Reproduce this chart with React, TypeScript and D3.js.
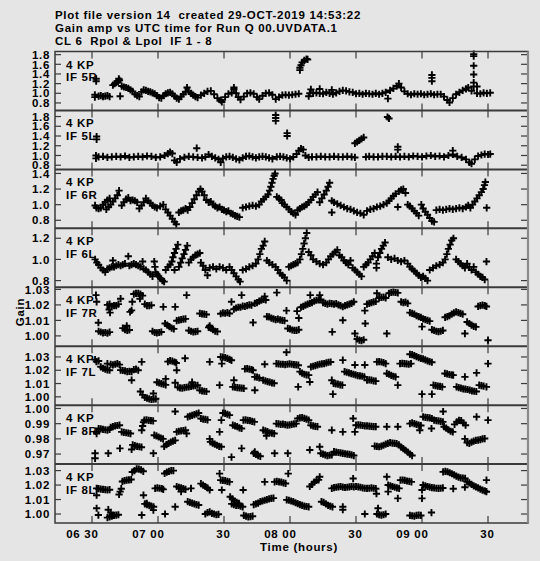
import React from "react";
import * as d3 from "d3";

// ---------- DATA (time = minutes after 06:00 UTC, value = gain amplitude) ----------
const panelLabels = ["IF 5R", "IF 5L", "IF 6R", "IF 6L", "IF 7R", "IF 7L", "IF 8R", "IF 8L"];
const antennaLabel = "4 KP";

const yDomains: [number, number][] = [
  [0.645, 1.865], [0.715, 1.925], [0.697, 1.452], [0.737, 1.294],
  [0.99335, 1.0314], [0.99376, 1.0381], [0.9634, 1.0022], [0.9938, 1.0345],
];
const yTicks: number[][] = [
  [0.8, 1.0, 1.2, 1.4, 1.6, 1.8],
  [0.8, 1.0, 1.2, 1.4, 1.6, 1.8],
  [0.8, 1.0, 1.2, 1.4],
  [0.8, 1.0, 1.2],
  [1.0, 1.01, 1.02, 1.03],
  [1.0, 1.01, 1.02, 1.03],
  [0.97, 0.98, 0.99, 1.0],
  [1.0, 1.01, 1.02, 1.03],
];
const yTickDecimals = [1, 1, 1, 1, 2, 2, 2, 2];

const timeTicks = [30, 60, 90, 120, 150, 180, 210];
const timeTickLabels = ["06 30", "07 00", "30", "08 00", "30", "09 00", "30"];
const timeDomain: [number, number] = [13.18, 228.18];

const titleLines = [
  "Plot file version 14  created 29-OCT-2019 14:53:22",
  "Gain amp vs UTC time for Run Q 00.UVDATA.1",
  "CL 6  Rpol & Lpol  IF 1 - 8",
];

const if5R: [number, number][] = [
  [31.3,0.97],[31.3,0.92],[31.9,1.30],[31.9,1.25],
  [33,0.94],[34,0.95],[35,0.93],[36,0.94],[37,0.95],[38,0.93],
  [39.5,1.17],[40.3,1.20],[41,1.22],[41.8,1.24],[42.2,1.30],[42.5,1.27],[42.8,0.94],
  [43.5,1.15],[44.5,1.13],[45.5,1.12],[46.5,1.10],[47.5,1.07],[48.5,1.04],
  [49.5,0.98],[50.5,0.95],[51.5,0.93],
  [52.5,1.03],[53.5,1.07],[54.5,1.06],[55.5,1.04],[56.5,1.03],[57.5,1.01],[58.5,0.99],[59.5,0.95],[60.5,0.91],[61.5,0.90],
  [62.5,0.95],[63.5,0.99],[64.5,1.01],[65.5,1.02],[66.5,0.99],[67.5,0.94],[68.5,0.90],[69.5,0.88],[70.5,0.93],[71.5,0.98],
  [72.5,1.03],[73.2,1.12],[74,1.04],[75,1.0],[76,0.96],[77,0.93],[78,0.91],
  [79.5,0.96],[81,1.0],[82.5,1.04],[84,1.05],[85.5,0.98],[87,0.9],[88.5,0.86],[89,0.82],[90.5,0.92],[92,0.99],[93.5,1.01],
  [94.5,1.08],[94.5,1.12],[95.5,1.0],[96.5,0.92],[97.5,0.87],[99,0.93],[100.5,1.0],[102,1.01],[103.5,0.99],[105,0.92],[106,0.88],
  [107.5,0.95],[109,1.0],[110.5,1.01],[112,0.97],[113.5,0.88],[115,0.92],[116.5,0.96],[118,0.97],[119.5,0.96],[121,0.97],[122.5,0.98],[124,0.99],
  [124.5,1.48],[124.5,1.53],[125,1.58],[125.5,1.64],[126.5,1.68],[127.5,1.71],[128,1.70],
  [128.5,0.94],[129,1.0],[129.5,1.08],[130.5,1.0],[132,1.01],[133.5,1.0],[133.5,1.09],[135,0.99],[136.5,1.02],[138,1.0],[139,1.07],
  [139.5,0.98],[141,1.01],[142.5,1.04],[144,1.06],[145.5,1.05],[147,1.03],[148.5,1.02],[150,0.99],[151.5,1.0],[153,0.98],[154.5,1.0],
  [156,0.99],[157.5,0.98],[159,1.0],[160.5,0.98],[162,1.0],[163.5,1.02],[164.5,0.89],[165.5,1.06],[167,1.1],[168.5,1.15],[169.5,1.2],
  [170.5,1.12],[172,1.04],[173.5,0.99],[175,0.97],[176.5,0.99],[178,0.98],[179.5,0.99],[181,0.97],[182.5,0.98],[184,0.99],
  [184.5,1.25],[184.5,1.32],[184.5,1.38],[185.5,0.97],[187,0.98],[188.5,0.98],[190,0.93],[191.5,0.86],[192.5,0.81],[194,0.9],
  [195.5,0.98],[197,1.02],[198.5,1.06],[200,1.09],[201,1.12],[202.5,1.05],
  [203.5,1.14],[203.5,1.22],[203.5,1.39],[203.5,1.57],[203.5,1.77],[203.5,1.81],
  [205,1.14],[205,1.0],[206.5,0.99],[208,1.01],[209.5,1.0],[211,1.01],
];

const if5L: [number, number][] = [
  [31.8,1.0],[31.8,0.94],[32.1,1.39],[32.1,1.33],
  [33,0.97],[35,0.98],[37,0.96],[39,0.97],[41,0.98],[43,0.97],[45,0.99],[47,0.96],[49,0.97],[51,0.98],[53,0.97],[55,0.99],
  [57,0.98],[59,0.96],[61,0.97],[63,1.0],[64.5,1.04],[65.5,1.07],[66.5,1.04],[67.5,0.9],[68.5,0.86],[70,0.93],[72,0.96],
  [74,0.98],[76,0.97],[77.6,1.15],[78,0.96],
  [80,0.95],[81.5,0.97],[83,1.02],[84.5,0.98],[86,0.95],[87.5,0.92],[88.5,0.86],[89.5,0.94],[91,0.97],[92.5,0.98],[94,0.96],
  [95.5,0.93],[97,0.91],[98.5,0.95],[100,0.98],[101.5,0.99],[103,0.97],[104.5,0.95],[106,0.97],[107.5,0.98],[109,0.97],
  [110.5,0.95],[112,0.93],[113.5,1.83],[113.5,1.77],[113.5,1.71],[114,0.97],[115.5,0.98],[117,0.97],[118.5,0.95],
  [118.7,1.46],[118.7,1.40],[120,0.93],[121.5,0.97],[123,1.03],[124,1.1],[125,1.14],[126,1.12],[127,1.0],[128.5,0.96],
  [130,0.97],[132,0.97],[134,0.98],[136,0.97],[138,0.97],[140,0.98],[142,0.97],[144,0.97],[146,0.98],[148,0.97],[149.5,0.96],
  [149.5,1.25],[150.5,1.28],[151.5,1.31],[152.5,1.34],[153.5,1.37],
  [154.5,0.97],[156,0.98],[158,0.97],[160,0.97],[162,0.98],[164,0.98],[164.3,1.79],[165,1.76],[166,0.97],[168,0.98],
  [169,1.18],[169,1.12],[170,0.97],[172,0.98],[174,0.97],[176,0.99],[178,0.98],[180,0.97],[182,0.99],[184,1.0],[186,0.98],
  [188,0.99],[190,0.97],[192,1.0],[194,1.1],[194,1.02],[196,0.98],[198,0.96],[200,0.92],[201.5,0.86],[202.5,0.83],
  [204,0.92],[205.5,0.99],[207,1.01],[208.5,1.03],[210,1.02],[211,1.03],
];

const if6R: [number, number][] = [
  [31.4,0.99],[32,0.96],[33,0.95],[34,0.96],[35,1.0],[36,1.03],[37,1.06],[38,1.08],[36.5,0.94],[37.5,0.97],[38.5,1.0],
  [39.5,1.04],[40.5,1.08],[41.5,1.12],[42.3,1.18],[43.5,0.99],[44.5,1.03],[45.5,1.07],[46.5,1.09],[47.5,1.05],[48.5,1.06],
  [49.5,1.05],[50.5,1.03],[51.5,0.95],[52.5,0.99],[53.5,1.03],[54.5,1.08],[55.5,1.05],[56.5,1.02],[57.5,0.99],[58.5,0.97],
  [59.5,0.96],[61,0.98],[62.4,1.0],[63.5,0.94],[64.5,0.9],[65.5,0.86],[66.5,0.82],[67.5,0.78],[68.3,0.75],[69.5,0.9],
  [70.5,0.92],[71.5,0.93],[72.5,0.95],[73.5,0.93],[74.5,0.97],[75.5,1.02],[76.5,1.07],[77.5,1.12],[78.5,1.17],[79.3,1.2],
  [80,1.17],[81,1.12],[82,1.06],[83,1.03],[84,1.04],[85,1.0],[86,0.98],[87,0.96],[88,0.97],[89,0.94],[90,0.93],[91,0.91],
  [92,0.92],[93,0.89],[94,0.88],[95,0.86],[96,0.85],[97,0.84],[98.5,0.96],[100,0.97],[101.5,0.98],[103,0.99],[104.5,0.98],
  [106,1.0],[107,1.04],[108,1.07],[109,1.1],[110,1.13],[110.7,1.18],[111.3,1.23],[111.8,1.28],[112.3,1.33],[112.8,1.37],
  [113.2,1.4],[114,1.1],[115,1.08],[116,1.06],[116.5,1.02],[117.5,1.0],[118.5,0.97],[119.5,0.94],[120.5,0.91],[121.5,0.89],
  [122.5,0.87],[123.5,0.93],[124.5,0.95],[125.5,0.97],[126.5,0.98],[127.5,1.0],[128.5,1.03],[129.5,1.06],[130.5,1.1],
  [131.5,1.13],[132.5,1.16],[133.5,1.03],[134.5,1.08],[135.5,1.13],[136.5,1.18],[137.3,1.23],[138,1.28],[139,1.05],[139,0.9],
  [140,1.03],[141.5,1.01],[143,0.99],[144.5,0.97],[146,0.95],[147.5,0.94],[149,0.92],[150.5,0.9],[152,0.89],[153.5,0.87],
  [155,0.92],[156.5,0.94],[158,0.95],[159.5,0.97],[161,0.98],[162.5,1.0],[164,1.02],[165,1.05],[166,1.08],[167,1.11],
  [168,1.14],[169,0.97],[169.5,1.17],[170.5,1.19],[171.5,1.2],[172.5,1.15],[173.5,1.0],[174.5,0.98],[175.5,0.95],[176.5,0.92],
  [177.5,0.89],[178.5,0.86],[179.7,1.0],[180.5,0.95],[181.5,0.91],[182.5,0.87],[183.5,0.83],[184.5,0.79],[185.5,0.78],
  [186.5,0.93],[188,0.94],[189.5,0.93],[191,0.94],[192.5,0.95],[194,0.94],[195.5,0.95],[197,0.96],[198.5,0.95],[200,0.97],
  [201,0.99],[202,0.96],[203,1.0],[204,1.04],[205,1.08],[206,1.12],[207,1.16],[207.8,1.2],[208.4,1.25],[208.8,1.29],[209.4,0.96],
];

const if6L: [number, number][] = [
  [31.4,1.0],[32.2,0.97],[33,0.95],[34,0.92],[35,0.9],[36,0.88],[37,0.91],[38,0.92],[39,0.93],[39.5,0.99],[40,0.93],
  [41,0.94],[42,0.95],[43,0.94],[44,0.95],[45,0.96],[46.5,1.03],[47,0.94],[48,0.95],[49,0.96],[50,0.95],[51,0.94],[52,0.93],
  [53,0.98],[53.5,0.91],[54.5,0.9],[55.5,0.88],[56.5,0.86],[57.5,0.84],[58.3,0.98],[58.6,0.93],[58.9,0.88],[59.5,0.86],
  [60.3,0.84],[61.2,0.82],[62,0.8],[62.8,0.79],[63.5,0.9],[64.5,0.93],[65.5,0.95],[66.3,0.98],[67.5,0.9],[66.8,1.02],
  [67.5,1.06],[68.2,1.1],[69,1.14],[69.5,0.93],[70.3,0.97],[71,1.01],[71.8,1.05],[72.5,1.09],[73.3,1.13],[74,0.97],[75,1.0],
  [76,1.02],[77,1.04],[78,1.05],[79,1.06],
  [79.5,0.97],[80.5,0.94],[81.5,0.9],[82.5,0.85],[83.5,0.92],[85,0.93],[86.5,0.91],[88,0.93],[89.5,0.92],[91,0.9],[92.5,0.93],
  [93.5,0.9],[94.5,0.87],[95.5,0.84],[96.5,0.81],[97.3,0.79],[98.5,0.9],[100,0.91],[101.5,0.93],[103,0.94],[104.5,0.96],
  [105.5,1.0],[106.3,1.05],[107,1.1],[107.8,1.13],[108.5,1.17],[109.5,0.99],[110.5,0.97],[112,0.95],[113.5,0.93],[114.5,0.9],
  [115.5,0.87],[116.5,0.85],[117.5,0.83],[118.5,0.8],[119.5,0.93],[120.5,0.94],[121.5,0.95],[122.5,0.96],[123.5,0.97],
  [124.5,1.0],[125.2,1.05],[125.8,1.1],[126.4,1.15],[127,1.2],[127.6,1.25],[128.5,1.07],[129.5,1.04],[130.5,1.0],[132,0.98],
  [133.5,0.96],[135,0.95],[136.5,0.97],[137.5,1.0],[138.5,1.03],[139.5,1.05],[140.5,1.07],[141.5,1.09],[142.5,1.04],
  [143.5,1.02],[144.5,0.99],[145.5,0.97],[146.5,0.95],[147.5,0.99],[148.5,0.92],[149.5,0.9],[150.5,0.88],[151.5,0.86],
  [152.5,0.84],[153.5,0.93],[154.5,0.95],[155.5,0.97],[156.5,1.0],[157.5,1.03],[158.5,1.06],[159.3,0.96],[159.3,0.92],
  [160,1.02],[160.8,1.06],[161.6,1.1],[162.4,1.13],[163.2,1.16],[164.5,1.02],[166,1.0],[167.5,1.01],[169,0.99],[170.5,0.98],
  [172,0.99],[173.5,0.96],[174.5,0.93],[175.5,0.91],[176.5,0.89],[177.5,0.87],[178.5,0.85],[179.5,0.83],[180.5,0.84],
  [181.5,0.82],[182.5,0.8],[183.5,0.9],[185,0.92],[186.5,0.94],[188,0.95],[189.5,0.97],[190.5,1.0],[191.3,1.05],[192,1.1],
  [192.8,1.14],[193.5,1.18],[194.3,1.2],[195.5,1.0],[196.5,0.98],[197.5,0.96],[198.5,0.94],[199.5,0.92],[200.5,0.96],
  [201.5,0.93],[202.5,0.9],[203.5,0.93],[204.5,0.88],[205.5,0.86],[206.5,0.84],[207.5,0.83],[208.5,0.81],[209.3,0.98],
];

const if7R: [number, number][] = [
  [31.8,1.0263],[32.1,1.022],[32.9,1.0085],
  [33,1.003],[34,1.0025],[35,1.002],[36,1.0022],[37,1.0018],[38,1.0024],
  [37,1.02],[38,1.0205],[39,1.019],[40,1.0195],[41,1.0195],[42,1.0205],[38.2,1.015],[37.8,1.017],
  [43,1.024],[44,1.005],[45,1.004],[46,1.0035],[47,1.0038],[45.8,1.0065],
  [47.3,1.0155],[48,1.0165],[48.3,1.022],
  [49,1.027],[50,1.0275],[51,1.0275],[52,1.027],[53,1.026],[51.8,1.024],
  [54,1.0205],[55,1.0195],[56,1.0195],[57,1.0198],
  [57.5,1.003],[58.5,1.0022],[59.5,1.002],[60.5,1.0022],[61.5,1.0025],[62.4,1.0187],
  [63.2,1.008],[64.2,1.007],[65.2,1.006],[66.2,1.005],[67.2,1.0045],[67.8,1.0187],
  [68.5,1.0098],[69.5,1.0102],[70.5,1.0105],[71.5,1.0108],[72.5,1.011],[73,1.0263],
  [74,1.0035],[75,1.003],[76,1.0025],[77,1.0028],[78,1.003],
  [79,1.0145],[80,1.0142],[81,1.014],[82,1.0138],
  [83,1.0055],[84,1.005],[85,1.004],[86,1.003],[87,1.0028],[83.5,1.0065],
  [88.5,1.0143],[89.5,1.0148],[90.5,1.0146],[91.5,1.015],[92.5,1.0145],[93.4,1.022],[98,1.0263],
  [94.5,1.0172],[95.5,1.018],[96.5,1.0185],[97.5,1.0185],[98.5,1.0192],[99.5,1.019],[100.5,1.0195],[101.5,1.02],[102.5,1.0198],
  [103.2,1.0086],
  [104,1.021],[105,1.0215],[106,1.0225],[107,1.023],[108,1.0235],[109,1.0232],[108.5,1.0255],[114,1.0279],
  [109.5,1.0125],[110.5,1.0123],[111.5,1.0115],[112.5,1.011],[113.5,1.0105],[114.5,1.0108],[115.5,1.0103],[116.5,1.01],[117.5,1.0098],
  [118.4,1.0163],
  [119,1.0048],[120,1.0045],[121,1.0038],[122,1.0036],[123,1.0035],[124,1.004],[123.2,1.016],[124,1.0115],
  [125,1.0185],[126,1.019],[127,1.0198],[128,1.0205],[129,1.021],[130,1.0215],[131,1.0225],[132,1.023],[133,1.0232],[134,1.0235],
  [129.2,1.0263],[133.5,1.0263],
  [135,1.0215],[136,1.021],[137,1.0205],[138,1.021],[139,1.0208],[140,1.0205],[141,1.0208],[142,1.02],[143,1.0195],[144,1.0188],
  [145,1.0195],[146,1.02],[147,1.0205],[148,1.021],[149,1.022],[144,1.0101],[139.2,1.0026],
  [149.5,1.0015],[150.5,0.998],[151.5,0.9972],[152.5,0.997],[153.5,0.9975],[154,1.0163],[154.2,1.008],
  [155,1.0205],[156,1.021],[157,1.0215],[158,1.022],[159,1.0222],[159.5,1.0275],
  [160.5,1.0245],[161.5,1.0248],[162.5,1.025],[163.5,1.0245],[164,1.0015],
  [165,1.0275],[166,1.028],[167,1.0282],[168,1.028],[169,1.0278],
  [170.5,1.022],[171.5,1.0215],[172.5,1.0218],[173.5,1.021],
  [174.5,1.015],[175.5,1.0145],[176.5,1.014],[177.5,1.013],[178.5,1.0125],[179.5,1.012],[180.5,1.011],[181.5,1.0105],[182.5,1.01],[183.5,1.0095],
  [180,1.006],
  [184.5,1.004],[185.5,1.0035],[186.5,1.003],[187.5,1.0028],[188.5,1.003],[189.5,1.0035],
  [190.5,1.012],[191.5,1.0125],[192.5,1.013],[193.5,1.014],[194.5,1.0148],[195.5,1.0155],[196.5,1.015],[197.5,1.0145],[198.5,1.014],
  [199.5,1.0015],
  [200.5,1.009],[201.5,1.008],[202.5,1.007],[203.5,1.0062],[204.5,1.0058],
  [205.5,1.019],[206.5,1.0195],[207.5,1.0198],[208.5,1.0195],[209.3,1.019],[210,0.9972],
];

const if7L: [number, number][] = [
  [31.4,1.028],[32,1.0265],[33,1.027],
  [34,1.0226],[35,1.0215],[36,1.0208],[37,1.0202],[38,1.02],
  [37,1.025],[38.5,1.0245],[39.5,1.024],[40.5,1.0245],[41.5,1.025],[42.5,1.0242],
  [43,1.0201],[44,1.0198],[45,1.0195],[46,1.019],[47,1.0192],[48,1.019],[48,1.0125],
  [49,1.0205],[50,1.0208],[51,1.02],[52.6,1.0263],
  [52,1.004],[53,1.0015],[54,0.9995],[55,0.999],[56,0.9985],[57,0.998],[58,0.9982],[59,0.9985],[57.9,1.0025],
  [59.5,1.011],[60.5,1.0105],[61.5,1.01],[62.5,1.0095],[63.5,1.009],[63.5,1.0135],
  [64.5,1.0265],[65.5,1.0272],[66.5,1.0268],[67.5,1.0262],[68.3,1.0255],[68.5,1.02],[67.8,1.0106],
  [69,1.0072],[70,1.0068],[71,1.0065],[72,1.007],[73,1.0072],[74,1.0075],[75,1.0078],[76,1.0082],[77,1.0085],[78,1.0087],
  [72.3,1.029],[75.5,1.011],
  [79,1.005],[80,1.0045],[81,1.0042],[82,1.004],[83.5,1.0263],[88,1.0088],
  [88.5,1.03],[89.5,1.0298],[90.5,1.0295],[91.5,1.029],[92.5,1.0282],[93.4,1.0275],[89,1.025],
  [94,1.0075],[95,1.0072],[96,1.007],[97,1.0068],[98,1.0065],[99,1.0063],[94.5,1.0125],
  [99.5,1.021],[100.5,1.0212],[101.5,1.0208],[102.5,1.0205],[103.2,1.02],
  [104,1.015],[105,1.0148],[106,1.0142],[104,1.005],[108.5,1.0245],
  [107.8,1.0125],[108.8,1.012],[109.8,1.0115],[110.8,1.011],[111.8,1.0105],[112.8,1.0102],
  [113.8,1.025],[114.8,1.0248],[115.8,1.0245],[116.8,1.0245],[117.8,1.0242],[118.8,1.0245],[119.8,1.0248],[120.8,1.0245],
  [121.8,1.0242],[122.8,1.024],[123.8,1.0238],[118.4,1.0335],[123.7,1.0075],
  [124.5,1.019],[125.5,1.0178],[126.5,1.017],[127.5,1.0165],[128.5,1.0163],[129,1.0112],
  [129.5,1.0226],[130.5,1.023],[131.5,1.0235],[132.5,1.024],[133.5,1.0245],[134.5,1.0248],[135.5,1.025],[136.5,1.0255],
  [137.5,1.026],[138.5,1.0262],[139,1.0125],[139.5,1.002],
  [139.8,1.0101],[140.8,1.0098],[141.8,1.0095],[142.8,1.009],[143.8,1.0088],[144,1.0276],
  [144.8,1.019],[145.8,1.0185],[146.8,1.018],[147.8,1.0175],[148.8,1.017],[149.8,1.0165],[150.8,1.016],[151.8,1.0158],
  [152.8,1.0155],[153.8,1.015],[149.5,1.024],[154,1.024],
  [155,1.0125],[156,1.0128],[157,1.0125],[158,1.012],[159,1.0118],
  [159.5,1.0263],[160.5,1.0265],[161.5,1.0262],[162.5,1.0258],[163.5,1.025],
  [164,1.0176],[165,1.017],[166,1.0162],[167,1.0155],[168,1.015],[169,1.0088],
  [170,1.025],[171,1.0252],[172,1.025],[173,1.0248],[174,1.0245],[175,1.025],
  [174.5,1.032],[175.5,1.0318],[176.5,1.031],[177.5,1.0302],[178.5,1.0295],[179.5,1.029],[180.5,1.0285],[181.5,1.0278],
  [182.5,1.027],[183.5,1.0265],[184.5,1.026],[180,1.002],[184.5,1.002],
  [185.2,1.0088],[186.2,1.0085],[187.2,1.008],[188.2,1.0078],[189.2,1.0075],
  [190.4,1.0176],[191.4,1.0172],[192.4,1.0168],[193.4,1.0165],[194.2,1.0163],
  [195.7,1.0075],[196.7,1.007],[197.7,1.0065],[198.7,1.006],[199.7,1.0058],[200.7,1.0055],[201.7,1.005],[202.7,1.0045],
  [203.7,1.0042],[204.7,1.004],[199.5,1.015],[204.8,1.018],
  [206,1.0088],[207,1.0085],[208,1.008],[209.3,1.0075],[210,1.025],
];

const if8R: [number, number][] = [
  [31.4,0.9705],[31.4,0.9672],[32.1,0.9846],[32.1,0.9835],
  [33,0.9868],[34,0.9866],[35,0.9862],[36,0.986],[37,0.9858],[38,0.9862],[37.4,0.9705],
  [38.5,0.9875],[39.5,0.988],[40.5,0.9885],[41.5,0.9888],[42.5,0.989],[42.7,0.9737],
  [43.5,0.9846],[44.5,0.9842],[45.5,0.984],[46.5,0.9838],[47.5,0.9835],[48,0.973],
  [48.5,0.976],[49.5,0.9755],[50.5,0.975],[51.5,0.9748],[52.5,0.9745],
  [52.6,0.9857],[53,0.9885],[53.4,0.991],
  [53.8,0.9923],[54.8,0.9925],[55.8,0.9922],[56.8,0.992],[57.8,0.9918],[57.9,0.9705],
  [58.3,0.9824],[59.3,0.982],[60.3,0.9812],[61.3,0.9805],[62.3,0.98],
  [62.8,0.975],[63.8,0.9762],[64.8,0.977],[65.8,0.9778],[66.8,0.9785],[67.8,0.979],[67.8,0.998],
  [68.5,0.9846],[69.5,0.985],[70.5,0.9852],[71.5,0.9855],[72.5,0.9857],[73,0.9835],
  [73.5,0.9945],[74.5,0.995],[75.5,0.9955],[76.5,0.996],[77.5,0.9965],[78.5,0.997],
  [79.5,0.9934],[80.5,0.993],[81.5,0.9928],[82.5,0.9925],[83.5,0.98],
  [83.8,0.978],[84.8,0.9772],[85.8,0.9765],[86.8,0.9758],[87.8,0.975],[88.8,0.9748],[88,0.9846],[88.8,0.9923],
  [89.5,0.997],[90.5,0.9968],[91.5,0.9962],[92.5,0.9956],[93.4,0.968],
  [94,0.989],[95,0.9885],[96,0.988],[97,0.9872],[98,0.9868],[98,0.9737],
  [98.8,0.9923],[99.8,0.9925],[100.8,0.9922],[101.8,0.992],[102.8,0.9915],[103.8,0.9912],
  [103.5,0.9705],[104.5,0.9698],[105.5,0.969],[106.5,0.9685],[104,0.9715],
  [107.8,0.9857],[108.8,0.9852],[109.8,0.9848],[110.8,0.984],[111.8,0.9838],[112.8,0.9835],[109.3,0.982],
  [113,0.9705],[119,0.9705],
  [113.8,0.99],[114.8,0.9898],[115.8,0.9895],[116.8,0.9897],[117.8,0.9893],[118.8,0.989],[119.8,0.9892],[120.8,0.9895],
  [121.8,0.9898],[122.8,0.99],
  [123.5,0.9934],[124.5,0.9938],[125.5,0.994],[126.5,0.9935],[127.5,0.993],[128.5,0.9923],[129,0.9727],
  [129.5,0.989],[130.5,0.9885],[131.5,0.9882],[132.5,0.988],[133.5,0.9748],
  [134,0.9705],[135,0.97],[136,0.9695],[137,0.969],[138,0.9692],[139,0.9695],[139,0.9857],[144,0.9846],
  [140,0.9716],[141,0.9712],[142,0.971],[143,0.9708],[144,0.9705],[145,0.9702],[146,0.97],[147,0.9698],[148,0.9695],[149,0.969],
  [148.7,0.9934],[149.5,0.9846],
  [150,0.989],[151,0.9892],[152,0.989],[153,0.9888],[154,0.9886],[155,0.9885],[156,0.9884],[157,0.9882],[158,0.988],[159,0.988],
  [158.5,0.9752],[159.5,0.975],[160.5,0.9748],[161.5,0.9752],[162.5,0.9758],[163.5,0.9765],[164.5,0.977],[165.5,0.9775],
  [166.5,0.9772],[167.5,0.977],[168.5,0.9768],[169.5,0.976],[164,0.988],[169,0.988],
  [170.5,0.9745],[171.5,0.9735],[172.5,0.9725],[173.5,0.9712],[174.5,0.97],[175.5,0.969],
  [174.5,0.99],[175.5,0.9905],[176.5,0.99],[177.5,0.9895],[178.5,0.989],[179.5,0.9888],[179,0.9857],[184.3,0.9868],
  [180.5,0.9945],[181.5,0.9942],[182.5,0.994],[183.5,0.9938],[184.5,0.9934],
  [185.5,0.9923],[186.5,0.992],[187.5,0.9918],[188.5,0.9915],[189.5,0.9912],[189.6,0.998],
  [190,0.988],[191,0.987],[192,0.986],[193,0.985],[194,0.9846],
  [194.8,0.9895],[195.8,0.9912],[196.8,0.9922],[197.8,0.992],[198.8,0.9905],[199.8,0.989],[199.5,0.98],
  [200.5,0.9775],[201.5,0.977],[202.5,0.9778],[203.5,0.9785],[204.5,0.979],[205.5,0.9792],[206.5,0.9795],[207.5,0.98],
  [208.5,0.9802],[204.8,0.9945],[210,0.9923],
];

const if8L: [number, number][] = [
  [32.1,1.0177],[32.1,1.013],[32.1,1.004],[32.9,0.9993],
  [33,1.0175],[34,1.0172],[35,1.017],[36,1.0168],[37,1.0166],[38,1.0168],
  [37.4,1.003],[38.5,1.001],[39.7,0.999],
  [37,0.9975],[38,0.998],[39,0.9985],[40,0.999],[41,0.9992],[42,0.9995],
  [42.3,1.0135],[42.8,1.0155],[43.3,1.0175],
  [43.8,1.0225],[44.8,1.023],[45.8,1.0234],[46.8,1.0236],[47.8,1.0238],
  [48.3,1.029],[49.3,1.03],[50.3,1.0312],[51.3,1.031],[52.3,1.0305],[53.3,1.0295],
  [52.6,0.9993],[53.4,1.013],[54.9,1.0073],
  [54,1.007],[55,1.0065],[56,1.006],[57,1.0055],[58,1.005],[57.9,1.0027],
  [58.7,1.0177],[59.7,1.018],[60.7,1.0178],[61.7,1.0176],[62.4,1.017],[63.2,1.0],
  [63,1.028],[64,1.029],[65,1.0295],[66,1.03],[67,1.03],[67.8,1.005],
  [68.5,1.019],[69.5,1.0185],[70.5,1.018],[71.5,1.0175],[72.5,1.017],[70.5,1.0155],
  [73.5,1.0085],[74.5,1.008],[75.5,1.0075],[76.5,1.007],[77.5,1.0065],[78.5,1.0062],[75,1.0177],
  [79.5,1.021],[80.5,1.02],[81.5,1.019],[82.5,1.018],[83.5,1.0166],
  [81.5,1.0],[82.5,1.001],[83.5,1.0015],[84.5,1.0005],[85.5,1.0],[86.5,0.9995],[87.5,0.9998],
  [88,1.0279],[88.5,1.0234],[89.5,1.0232],[90.5,1.023],[91.5,1.0225],[92.5,1.0222],[89,1.0166],
  [92.8,1.0119],[93.8,1.0105],[94.8,1.009],[95.8,1.008],[96.8,1.0073],
  [93.5,1.007],[94.5,1.0065],[95.5,1.006],[96.5,1.006],[97.5,1.0055],[98.5,1.005],[98.7,1.0166],
  [99,0.999],[100,0.9985],[101,0.998],[102,0.9982],[103,0.9985],
  [103.5,1.0065],[104.5,1.007],[105.5,1.0075],[106.5,1.0085],[107.5,1.009],[108.5,1.0095],[109.5,1.01],[110.5,1.0105],
  [111.5,1.0108],[112.5,1.011],[108.5,1.0222],
  [113,1.0222],[114,1.0225],[115,1.0222],[116,1.022],[117,1.0215],[118,1.0211],[119.2,1.0279],
  [118.5,1.0098],[119.5,1.0095],[120.5,1.009],[121.5,1.0085],[122.5,1.0078],[123.5,1.0072],[124.5,1.0065],[125.5,1.006],
  [126.5,1.0055],[127.5,1.0052],[128.5,1.005],
  [129,1.019],[130,1.0205],[131,1.022],[132,1.0232],[133,1.0236],[133.5,1.0257],
  [134.3,1.0085],[135.3,1.008],[136.3,1.007],[137.3,1.006],[138.3,1.0055],[139.3,1.005],
  [139,1.0177],[140,1.0182],[141,1.0185],[142,1.0188],[143,1.019],[144,1.0186],[145,1.0183],[146,1.0185],[147,1.0188],
  [148,1.019],[149,1.0188],[144,1.005],[144,1.003],[148.7,1.0245],
  [150,1.019],[151,1.0188],[152,1.0185],[153,1.018],[154,1.0178],[155,1.0177],[156,1.0178],[157,1.018],[158,1.0178],
  [159,1.0175],[154,1.0],[159.3,1.014],
  [159.5,1.0],[160.5,0.9995],[161.5,0.9992],[162.5,0.9995],[163.5,1.0],[160,1.004],[164,1.0257],
  [164.6,1.02],[165.6,1.0195],[166.6,1.019],[167.6,1.0185],[168.6,1.018],[169.6,1.0177],[164.6,1.0155],[169,1.0108],
  [170.2,1.0234],[171.2,1.0235],[172.2,1.0232],[173.2,1.0228],[174.2,1.0225],[175.2,1.0222],
  [174.5,0.999],[175.5,0.9988],[176.5,0.9985],[177.5,0.999],[178.5,0.9992],[179.5,0.999],
  [180,1.0166],[180,1.0108],
  [180.5,1.02],[181.5,1.0195],[182.5,1.019],[183.5,1.0186],[184.5,1.0182],[185.5,1.018],[186.5,1.0178],[187.5,1.0177],
  [188.5,1.0178],[189.5,1.018],[184.3,1.001],
  [189.6,1.0291],[190.6,1.0295],[191.6,1.0292],[192.6,1.0285],[193.6,1.0278],[194.6,1.027],[195.6,1.0262],[196.6,1.0255],
  [197.6,1.025],[198.6,1.0248],[199.6,1.0246],[194.2,1.0175],[199.5,1.0185],
  [200.5,1.0222],[201.5,1.0215],[202.5,1.0205],[203.5,1.0195],[204.5,1.0188],[205.5,1.018],[206.5,1.0172],[207.5,1.0165],
  [208.5,1.016],[209.3,1.0154],[209.3,1.0234],
];

const panelData = [if5R, if5L, if6R, if6L, if7R, if7L, if8R, if8L];

// ---------- LAYOUT ----------
const W = 540;
const H = 561;
const X0 = 55;
const X1 = 528;
const TOP = 51.5;
const BOTTOM = 523;
const PH = (BOTTOM - TOP) / panelData.length;
const FONT = "'Liberation Sans', Arial, Helvetica, sans-serif";
const FS = 11.5;
const LS = 0.7;
const FRAME = "#3a3a3a";

export default function App() {
  const x = d3.scaleLinear().domain(timeDomain).range([X0, X1]);
  const arm = 3.6;

  return (
    <div style={{ position: "fixed", left: 0, top: 0, width: W, height: H }}>
      <svg width={W} height={H} style={{ display: "block" }}>
        <rect x={0} y={0} width={W} height={H} fill="#e5e5e5" />
        {titleLines.map((t, i) => (
          <text key={i} x={55} y={18.5 + i * 13} fontFamily={FONT} fontWeight="bold"
            fontSize={FS} letterSpacing={LS} fill="#000" style={{ whiteSpace: "pre" }}>
            {t}
          </text>
        ))}
        {panelData.map((data, p) => {
          const top = TOP + p * PH;
          const bot = top + PH;
          const y = d3.scaleLinear().domain(yDomains[p]).range([bot, top]);
          const path = d3.path();
          data.forEach(([t, v]) => {
            const px = x(t);
            const py = y(v);
            path.moveTo(px - arm, py);
            path.lineTo(px + arm, py);
            path.moveTo(px, py - arm);
            path.lineTo(px, py + arm);
          });
          const fmt = d3.format(`.${yTickDecimals[p]}f`);
          return (
            <g key={p}>
              {yTicks[p].map((tv) => (
                <g key={tv}>
                  <line x1={X0} x2={X0 + 6} y1={y(tv)} y2={y(tv)} stroke={FRAME} strokeWidth={1.2} />
                  <line x1={X1 - 7} x2={X1} y1={y(tv)} y2={y(tv)} stroke={FRAME} strokeWidth={1.2} />
                  <text x={50} y={y(tv) + 4.2} textAnchor="end" fontFamily={FONT} fontWeight="bold"
                    fontSize={FS} letterSpacing={LS} fill="#000">{fmt(tv)}</text>
                </g>
              ))}
              {timeTicks.map((tt) => (
                <g key={tt}>
                  <line x1={x(tt)} x2={x(tt)} y1={top} y2={top + 7} stroke={FRAME} strokeWidth={1.2} />
                  <line x1={x(tt)} x2={x(tt)} y1={bot - 7} y2={bot} stroke={FRAME} strokeWidth={1.2} />
                </g>
              ))}
              <text x={66} y={top + 17} fontFamily={FONT} fontWeight="bold" fontSize={FS}
                letterSpacing={LS} fill="#000">{antennaLabel}</text>
              <text x={66} y={top + 29.5} fontFamily={FONT} fontWeight="bold" fontSize={FS}
                letterSpacing={LS} fill="#000">{panelLabels[p]}</text>
              <path d={path.toString()} stroke="#000" strokeWidth={1.9} fill="none" />
              {p > 0 && <line x1={X0} x2={X1} y1={top} y2={top} stroke={FRAME} strokeWidth={2} />}
            </g>
          );
        })}
        <rect x={X0} y={TOP} width={X1 - X0} height={BOTTOM - TOP} fill="none" stroke={FRAME} strokeWidth={1.5} />
        <line x1={X1} x2={X1} y1={TOP} y2={BOTTOM} stroke="#8a8a8a" strokeWidth={2.2} />
        {timeTicks.map((tt, i) => (
          <text key={tt} x={x(tt) + 6.5} y={537.5} textAnchor="end" fontFamily={FONT} fontWeight="bold"
            fontSize={FS} letterSpacing={LS} fill="#000" style={{ whiteSpace: "pre" }}>{timeTickLabels[i]}</text>
        ))}
        <text x={299} y={551} textAnchor="middle" fontFamily={FONT} fontWeight="bold" fontSize={FS}
          letterSpacing={LS} fill="#000">Time (hours)</text>
        <text transform="translate(24,312) rotate(-90)" textAnchor="middle" fontFamily={FONT}
          fontWeight="bold" fontSize={FS} letterSpacing={LS} fill="#000">Gain</text>
      </svg>
    </div>
  );
}
